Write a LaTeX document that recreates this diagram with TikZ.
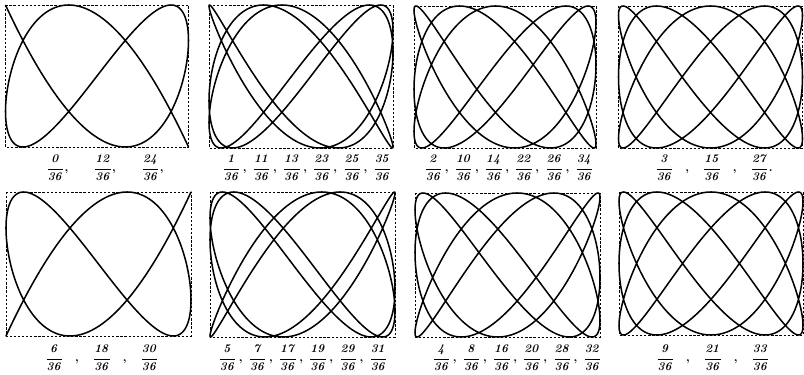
\documentclass[tikz,border=0pt]{standalone}
\usepackage{amsmath}
\usepackage{tikz}

\newcommand{\phs}[1]{\dfrac{\mathit{#1}}{\mathit{36}}}

\begin{document}
\begin{tikzpicture}[x=0.03cm,y=-0.03cm,
    frame/.style={dash pattern=on 2pt off 1.5pt, line width=0.6pt},
    curve/.style={line width=1.3pt, line join=round},
    lab/.style={inner sep=0pt, font=\boldmath}]
\useasboundingbox (0,0) rectangle (804,375);

    % upper row, phase n/36
\begin{scope}[shift={(97,76)},xscale=91.5,yscale=71]
\draw[frame] (-1,-1) rectangle (1,1);
\draw[curve] plot[domain=0:360,samples=721,smooth] ({-cos(3*\x)},{-cos(5*\x)});
\end{scope}

\begin{scope}[shift={(301,76.5)},xscale=92,yscale=71.5]
\draw[frame] (-1,-1) rectangle (1,1);
\draw[curve] plot[domain=0:360,samples=721,smooth] ({-cos(3*\x)},{-cos(5*\x+10)});
\end{scope}

\begin{scope}[shift={(505,77)},xscale=91,yscale=71]
\draw[frame] (-1,-1) rectangle (1,1);
\draw[curve] plot[domain=0:360,samples=721,smooth] ({-cos(3*\x)},{-cos(5*\x+20)});
\end{scope}

\begin{scope}[shift={(710.5,77)},xscale=92,yscale=71]
\draw[frame] (-1,-1) rectangle (1,1);
\draw[curve] plot[domain=0:360,samples=721,smooth] ({-cos(3*\x)},{-cos(5*\x+30)});
\end{scope}


\node[lab] (l0) at (105,168) {$\phs{0},\qquad\phs{12},\qquad\phs{24},$};
\node[lab] (l1) at (307,168) {$\phs{1}\,,\;\phs{11}\,,\;\phs{13}\,,\;\phs{23}\,,\;\phs{25}\,,\;\phs{35}$};
\node[lab] (l2) at (509,168) {$\phs{2}\,,\;\phs{10}\,,\;\phs{14}\,,\;\phs{22}\,,\;\phs{26}\,,\;\phs{34}$};
\node[lab] (l3) at (714,168) {$\phs{3}\quad,\quad\phs{15}\quad,\quad\phs{27}.$};


    % lower row
\begin{scope}[shift={(98.5,264)},xscale=92.5,yscale=72]
\draw[frame] (-1,-1) rectangle (1,1);
\draw[curve] plot[domain=0:360,samples=721,smooth] ({-cos(3*\x)},{-cos(5*\x+60)});
\end{scope}

\begin{scope}[shift={(302.5,264.5)},xscale=92.5,yscale=72.5]
\draw[frame] (-1,-1) rectangle (1,1);
\draw[curve] plot[domain=0:360,samples=721,smooth] ({-cos(3*\x)},{-cos(5*\x+50)});
\end{scope}

\begin{scope}[shift={(507.5,265)},xscale=92.5,yscale=72]
\draw[frame] (-1,-1) rectangle (1,1);
\draw[curve] plot[domain=0:360,samples=721,smooth] ({-cos(3*\x)},{-cos(5*\x+40)});
\end{scope}

\begin{scope}[shift={(711,263.5)},xscale=92,yscale=71.5]
\draw[frame] (-1,-1) rectangle (1,1);
\draw[curve] plot[domain=0:360,samples=721,smooth] ({-cos(3*\x)},{-cos(5*\x+90)});
\end{scope}


\node[lab] (l4) at (102,358) {$\phs{6}\quad,\quad\phs{18}\quad,\quad\phs{30}$};
\node[lab] (l5) at (303,358) {$\phs{5}\,,\;\phs{7}\,,\;\phs{17}\,,\;\phs{19}\,,\;\phs{29}\,,\;\phs{31}$};
\node[lab] (l6) at (517,358) {$\phs{4}\,,\;\phs{8}\,,\;\phs{16}\,,\;\phs{20}\,,\;\phs{28}\,,\;\phs{32}$};
\node[lab] (l7) at (713,358) {$\phs{9}\quad,\quad\phs{21}\quad,\quad\phs{33}$};

\end{tikzpicture}
\end{document}
